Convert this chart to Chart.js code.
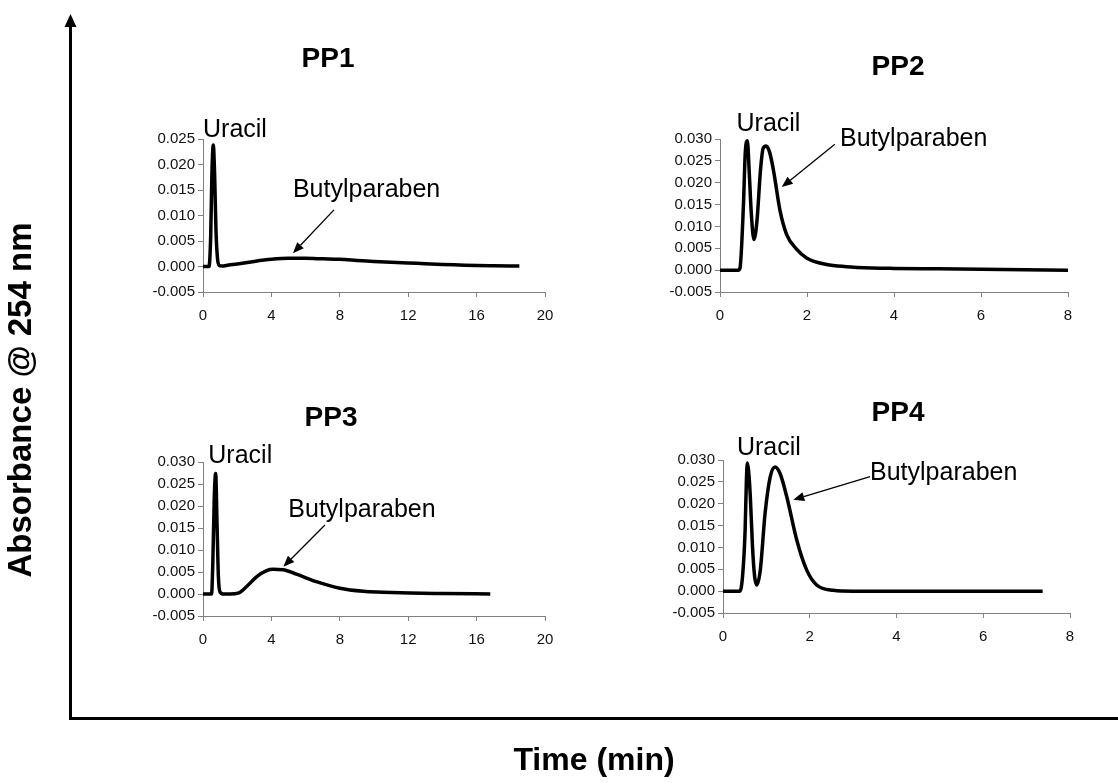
<!DOCTYPE html>
<html>
<head>
<meta charset="utf-8">
<script src="https://cdn.jsdelivr.net/npm/chart.js@4.4.1/dist/chart.umd.min.js"></script>
<style>
    body { margin: 0; background: #fff; }
    #wrap { position: relative; width: 1118px; height: 783px; overflow: hidden; }
    #wrap canvas { position: absolute; }
</style>
</head>
<body>
<div id="wrap">
    <canvas id="frame" width="1118" height="783" style="left:0;top:0"></canvas>
    <canvas id="pp1"></canvas>
    <canvas id="pp2"></canvas>
    <canvas id="pp3"></canvas>
    <canvas id="pp4"></canvas>
</div>
<script>
const fontFamily = 'Arial, "Liberation Sans", Helvetica, sans-serif';

// Chromatogram traces (time in min, absorbance in AU)
const pp1Time = [0, 0.35, 0.45, 0.52, 0.6, 0.68, 0.76, 0.85, 0.95, 1.1, 1.5, 2, 3, 4, 5, 6, 7, 8, 9, 10, 11, 12, 13, 14, 15, 16, 17, 18.5];
const pp1Abs = [0, 0, 0.006, 0.018, 0.0238, 0.018, 0.007, 0.0015, 0.0002, 0.0001, 0.0003, 0.0005, 0.001, 0.0014, 0.0016, 0.0016, 0.0015, 0.0014, 0.0012, 0.001, 0.00085, 0.0007, 0.00055, 0.0004, 0.0003, 0.0002, 0.00015, 0.0001];

const pp2Time = [0, 0.42, 0.46, 0.54, 0.58, 0.63, 0.67, 0.72, 0.78, 0.85, 0.93, 0.99, 1.06, 1.14, 1.23, 1.38, 1.53, 1.76, 1.99, 2.45, 2.9, 3.5, 4, 5, 6, 7, 8];
const pp2Abs = [0, 0, 0.0005, 0.0152, 0.0267, 0.0296, 0.0228, 0.0129, 0.007, 0.0113, 0.0228, 0.0278, 0.0284, 0.027, 0.0228, 0.0136, 0.0082, 0.0048, 0.0028, 0.0013, 0.0008, 0.0005, 0.0004, 0.0003, 0.0002, 0.0001, 0];

const pp3Time = [0, 0.5, 0.58, 0.66, 0.74, 0.82, 0.9, 0.99, 1.2, 1.6, 2.06, 2.55, 3.13, 3.72, 4.1, 4.68, 5.46, 6.63, 8, 9.37, 10.5, 12.1, 14, 16.8];
const pp3Abs = [0, 0, 0.008, 0.022, 0.0274, 0.016, 0.004, 0.0005, 0, 0, 0.0002, 0.0017, 0.0039, 0.0053, 0.0056, 0.0055, 0.0045, 0.0028, 0.0013, 0.0006, 0.0004, 0.0002, 0.0001, 0];

const pp4Time = [0, 0.39, 0.45, 0.51, 0.54, 0.56, 0.59, 0.63, 0.68, 0.73, 0.78, 0.86, 0.97, 1.09, 1.2, 1.32, 1.47, 1.7, 1.93, 2.16, 2.54, 3, 4, 5, 6, 7.37];
const pp4Abs = [0, 0, 0.0033, 0.014, 0.0255, 0.0293, 0.0275, 0.0216, 0.0102, 0.0033, 0.0014, 0.0048, 0.0178, 0.0262, 0.0284, 0.0268, 0.0216, 0.0117, 0.0048, 0.0014, 0.0002, 0, 0, 0, 0, 0];

// Axis ranges per panel
const panelNames = ['PP1', 'PP2', 'PP3', 'PP4'];
const timeMax = [20, 8, 20, 8];
const timeStep = [4, 2, 4, 2];
const absMin = -0.005;
const absMax = [0.025, 0.03, 0.03, 0.03];
const absStep = 0.005;

// Peak labels: [text, time, absorbance] for the text baseline start
const peakLabels = [
    [['Uracil', 0, 0.0254], ['Butylparaben', 5.26, 0.01355]],
    [['Uracil', 0.38, 0.0318], ['Butylparaben', 2.76, 0.02834]],
    [['Uracil', 0.31, 0.0297], ['Butylparaben', 4.99, 0.01743]],
    [['Uracil', 0.32, 0.0312], ['Butylparaben', 3.39, 0.02546]]
];
// Arrows from label to the butylparaben peak: [t0, a0, t1, a1]
const peakArrows = [
    [7.66, 0.0111, 5.26, 0.0026],
    [2.64, 0.0288, 1.42, 0.019],
    [7.13, 0.01568, 4.7, 0.0062],
    [3.39, 0.0262, 1.62, 0.0209]
];

// Page placement of each plot area: left, right, top, bottom, then heading centre offset
const plotBoxes = [
    { l: 203, r: 545, t: 139, b: 292, hx: 125, hy: -80 },
    { l: 720, r: 1068, t: 139, b: 292, hx: 178, hy: -72 },
    { l: 203, r: 545, t: 462, b: 616, hx: 128, hy: -44 },
    { l: 723, r: 1070, t: 460, b: 613, hx: 175, hy: -47 }
];

const traces = [[pp1Time, pp1Abs], [pp2Time, pp2Abs], [pp3Time, pp3Abs], [pp4Time, pp4Abs]];

const Y_AXIS_W = 70;
const X_AXIS_H = 45;
const PAD_RIGHT = 24;
const PAD_TOP = 110;

// Draws the arrowhead and the upper part of the outer vertical axis
const axisArrow = {
    id: 'axisArrow',
    afterDraw(chart) {
        const ctx = chart.ctx;
        const x = Math.round(chart.chartArea.left - 1.5) + 1.5;
        ctx.save();
        ctx.strokeStyle = '#000';
        ctx.fillStyle = '#000';
        ctx.lineWidth = 3;
        ctx.beginPath();
        ctx.moveTo(x, chart.chartArea.top + 1);
        ctx.lineTo(x, 25);
        ctx.stroke();
        ctx.beginPath();
        ctx.moveTo(x, 14);
        ctx.lineTo(x - 6, 27);
        ctx.lineTo(x + 6, 27);
        ctx.closePath();
        ctx.fill();
        ctx.restore();
    }
};

new Chart(document.getElementById('frame'), {
    type: 'scatter',
    data: { datasets: [] },
    options: {
        responsive: false,
        animation: false,
        events: [],
        layout: { padding: { top: 82, right: 0, bottom: 0, left: 0 } },
        plugins: { legend: { display: false }, tooltip: { enabled: false } },
        scales: {
            x: {
                min: 0, max: 1,
                ticks: { display: false },
                grid: { display: false, drawTicks: false },
                border: { display: true, color: '#000', width: 3 },
                title: {
                    display: true, text: 'Time (min)', color: '#000',
                    font: { family: fontFamily, size: 32, weight: 'bold' },
                    padding: { top: 23.8, bottom: 2.8 }
                }
            },
            y: {
                min: 0, max: 1,
                ticks: { display: false },
                grid: { display: false, drawTicks: false },
                border: { display: true, color: '#000', width: 3 },
                title: {
                    display: true, text: 'Absorbance @ 254 nm', color: '#000',
                    font: { family: fontFamily, size: 33, weight: 'bold' },
                    padding: { top: 2.2, bottom: 28.2 }
                }
            }
        }
    },
    plugins: [axisArrow]
});

// Heading, peak names and arrow for one panel
function makeNotes(i) {
    return {
        id: 'peakNotes',
        afterDatasetsDraw(chart) {
            const { ctx, chartArea, scales } = chart;
            const box = plotBoxes[i];
            ctx.save();
            ctx.fillStyle = '#000';
            ctx.strokeStyle = '#000';

            ctx.font = 'bold 28px ' + fontFamily;
            ctx.textAlign = 'center';
            ctx.textBaseline = 'middle';
            ctx.fillText(panelNames[i], chartArea.left + box.hx, chartArea.top + box.hy);

            ctx.font = '25px ' + fontFamily;
            ctx.textAlign = 'left';
            ctx.textBaseline = 'alphabetic';
            peakLabels[i].forEach(function (lab) {
                ctx.fillText(lab[0], scales.x.getPixelForValue(lab[1]), scales.y.getPixelForValue(lab[2]));
            });

            const a = peakArrows[i];
            const x0 = scales.x.getPixelForValue(a[0]);
            const y0 = scales.y.getPixelForValue(a[1]);
            const x1 = scales.x.getPixelForValue(a[2]);
            const y1 = scales.y.getPixelForValue(a[3]);
            const ang = Math.atan2(y1 - y0, x1 - x0);
            const headLen = 11, headHalf = 4.5;
            const bx = x1 - headLen * Math.cos(ang);
            const by = y1 - headLen * Math.sin(ang);
            ctx.lineWidth = 1.3;
            ctx.beginPath();
            ctx.moveTo(x0, y0);
            ctx.lineTo(bx, by);
            ctx.stroke();
            ctx.beginPath();
            ctx.moveTo(x1, y1);
            ctx.lineTo(bx + headHalf * Math.sin(ang), by - headHalf * Math.cos(ang));
            ctx.lineTo(bx - headHalf * Math.sin(ang), by + headHalf * Math.cos(ang));
            ctx.closePath();
            ctx.fill();
            ctx.restore();
        }
    };
}

function panelChart(i) {
    const box = plotBoxes[i];
    const canvas = document.getElementById('pp' + (i + 1));
    canvas.width = box.r - box.l + Y_AXIS_W + PAD_RIGHT;
    canvas.height = box.b - box.t + PAD_TOP + X_AXIS_H;
    canvas.style.left = (box.l - Y_AXIS_W) + 'px';
    canvas.style.top = (box.t - PAD_TOP) + 'px';

    const times = traces[i][0];
    const values = traces[i][1];
    const points = times.map(function (t, k) { return { x: t, y: values[k] }; });

    const tickFont = { family: fontFamily, size: 15 };

    return new Chart(canvas, {
        type: 'scatter',
        data: {
            datasets: [{
                data: points,
                showLine: true,
                borderColor: '#000',
                borderWidth: 3.5,
                pointRadius: 0,
                cubicInterpolationMode: 'monotone',
                fill: false
            }]
        },
        options: {
            responsive: false,
            animation: false,
            events: [],
            layout: { padding: { top: PAD_TOP, right: PAD_RIGHT, bottom: 0, left: 0 } },
            plugins: { legend: { display: false }, tooltip: { enabled: false } },
            scales: {
                x: {
                    type: 'linear',
                    min: 0, max: timeMax[i],
                    afterFit: function (scale) { scale.height = X_AXIS_H; },
                    ticks: { stepSize: timeStep[i], color: '#111', font: tickFont, padding: 10, maxRotation: 0 },
                    grid: { drawOnChartArea: false, drawTicks: true, tickLength: 5, color: '#808080' },
                    border: { color: '#808080', width: 1 }
                },
                y: {
                    min: absMin, max: absMax[i],
                    afterFit: function (scale) { scale.width = Y_AXIS_W; },
                    ticks: {
                        stepSize: absStep, color: '#111', font: tickFont, padding: 3,
                        callback: function (v) { return (Math.abs(v) < 1e-9 ? 0 : v).toFixed(3); }
                    },
                    grid: { drawOnChartArea: false, drawTicks: true, tickLength: 5, color: '#808080' },
                    border: { color: '#808080', width: 1 }
                }
            }
        },
        plugins: [makeNotes(i)]
    });
}

for (let i = 0; i < 4; i++) {
    panelChart(i);
}
</script>
</body>
</html>
